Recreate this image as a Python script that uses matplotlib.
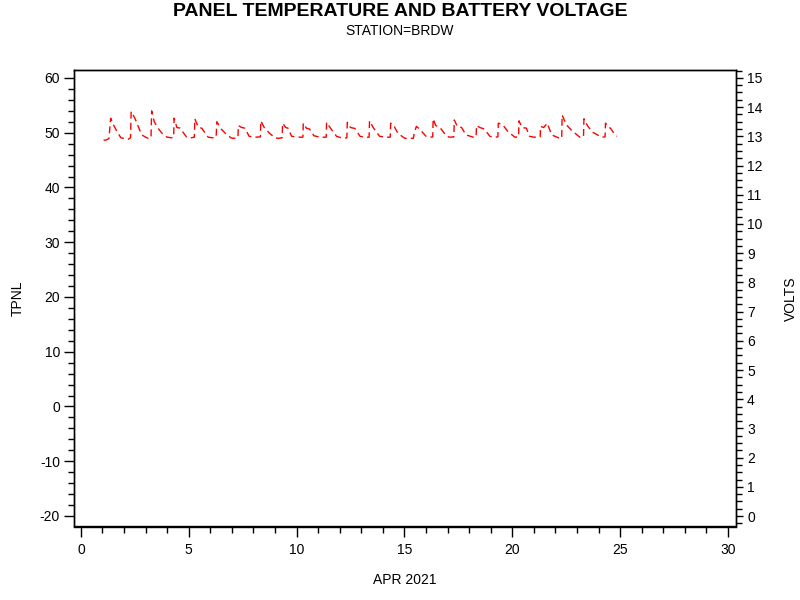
import matplotlib
matplotlib.use("Agg")
import matplotlib.pyplot as plt
from matplotlib.ticker import MultipleLocator

plt.rcParams['font.family'] = ['Liberation Sans', 'DejaVu Sans']
plt.rcParams['axes.unicode_minus'] = False

# Day of April 2021
days = [1.05, 1.15, 1.30, 1.38, 1.50, 1.65, 1.85, 2.00,
        2.20, 2.30, 2.33, 2.50, 2.65, 2.82, 3.00, 3.12,
        3.25, 3.28, 3.40, 3.60, 3.82, 4.00, 4.20,
        4.30, 4.32, 4.45, 4.60, 4.90, 5.10,
        5.26, 5.28, 5.45, 5.60, 5.90, 6.10,
        6.27, 6.30, 6.50, 6.70, 6.95, 7.06,
        7.28, 7.30, 7.45, 7.60, 7.80, 8.06,
        8.32, 8.34, 8.50, 8.75, 9.00, 9.15,
        9.33, 9.35, 9.50, 9.60, 9.77, 10.15,
        10.29, 10.31, 10.45, 10.60, 10.80, 11.08,
        11.37, 11.39, 11.55, 11.85, 12.16,
        12.33, 12.35, 12.50, 12.70, 12.94, 13.15,
        13.36, 13.38, 13.55, 13.85, 14.17,
        14.34, 14.36, 14.50, 14.70, 15.02, 15.41,
        15.45, 15.55, 15.70, 16.00, 16.15,
        16.31, 16.33, 16.45, 16.65, 16.95, 17.10,
        17.29, 17.31, 17.45, 17.65, 17.85, 18.19,
        18.32, 18.34, 18.50, 18.70, 18.96, 19.15,
        19.33, 19.35, 19.55, 19.80, 20.12,
        20.29, 20.31, 20.45, 20.65, 20.80, 21.00,
        21.29, 21.31, 21.45, 21.62, 21.82, 22.20,
        22.29, 22.31, 22.50, 22.75, 23.13,
        23.30, 23.32, 23.50, 23.70, 24.14,
        24.30, 24.32, 24.48, 24.55, 24.76, 24.84]

volts = [12.87, 12.87, 12.92, 13.62, 13.40, 13.20, 12.95, 12.93,
         12.90, 12.95, 13.85, 13.62, 13.35, 13.05, 12.97, 12.93,
         12.95, 13.87, 13.50, 13.25, 13.05, 12.97, 12.95,
         12.97, 13.62, 13.30, 13.28, 12.97, 12.95,
         12.97, 13.60, 13.30, 13.28, 12.97, 12.95,
         12.97, 13.50, 13.25, 13.10, 12.95, 12.93,
         12.95, 13.37, 13.30, 13.28, 13.00, 12.97,
         12.98, 13.53, 13.30, 13.10, 12.95, 12.93,
         12.95, 13.45, 13.30, 13.28, 13.00, 12.97,
         12.97, 13.45, 13.28, 13.25, 13.02, 12.97,
         12.97, 13.48, 13.30, 13.00, 12.93,
         12.95, 13.48, 13.30, 13.27, 13.00, 12.97,
         12.97, 13.53, 13.30, 13.00, 12.97,
         12.97, 13.45, 13.37, 13.10, 12.93, 12.93,
         13.10, 13.34, 13.25, 13.00, 12.97,
         12.98, 13.60, 13.37, 13.30, 13.00, 12.97,
         12.98, 13.56, 13.34, 13.30, 13.05, 12.97,
         12.98, 13.37, 13.30, 13.25, 13.00, 12.97,
         12.98, 13.45, 13.40, 13.16, 12.97,
         12.98, 13.53, 13.30, 13.28, 13.00, 12.97,
         12.98, 13.34, 13.30, 13.45, 13.05, 12.93,
         12.93, 13.73, 13.40, 13.20, 12.97,
         12.98, 13.60, 13.35, 13.15, 12.97,
         12.98, 13.45, 13.30, 13.28, 13.05, 13.00]

x_ticks = [0, 5, 10, 15, 20, 25, 30]
left_ticks = [-20, -10, 0, 10, 20, 30, 40, 50, 60]
right_ticks = list(range(0, 16))

fig = plt.figure(figsize=(8, 6), dpi=100)
ax = fig.add_axes([74/800, 1-526/600, (736-74)/800, (526-70)/600])
ax2 = ax.twinx()

ax.set_xlim(-0.32, 30.37)
ax.set_ylim(-21.83, 61.46)
ax2.set_ylim(-0.34, 15.27)

ax2.plot(days, volts, color='red', lw=1.0, linestyle=(0, (5, 3)))

ax.set_xticks(x_ticks)
ax.xaxis.set_minor_locator(MultipleLocator(1))
ax.set_yticks(left_ticks)
ax.yaxis.set_minor_locator(MultipleLocator(2))
ax2.set_yticks(right_ticks)
ax2.yaxis.set_minor_locator(MultipleLocator(0.25))

for a in (ax, ax2):
    for s in a.spines.values():
        s.set_linewidth(1.0)
ax.spines['bottom'].set_position(('outward', 1))

ax.tick_params(axis='both', which='major', length=7, width=1, labelsize=10, direction='out', pad=3)
ax.tick_params(axis='both', which='minor', length=4, width=1, direction='out')
ax.tick_params(axis='x', which='major', pad=4)
ax2.tick_params(axis='y', which='major', length=5, width=1, labelsize=10, direction='out', pad=3)
ax2.tick_params(axis='y', which='minor', length=4, width=1, direction='out')

fig.text(405/800, 1-580/600, 'APR 2021', ha='center', va='center', fontsize=10)
fig.text(18/800, 1-298/600, 'TPNL', ha='center', va='center', fontsize=10, rotation=90)
fig.text(791/800, 1-299/600, 'VOLTS', ha='center', va='center', fontsize=10, rotation=90)

fig.text(0.5, 1-11/600, 'PANEL TEMPERATURE AND BATTERY VOLTAGE', ha='center', va='center',
         fontsize=14, fontweight='bold')
fig.text(0.5, 1-31/600, 'STATION=BRDW', ha='center', va='center', fontsize=10)

fig.savefig('out.png', dpi=100)
